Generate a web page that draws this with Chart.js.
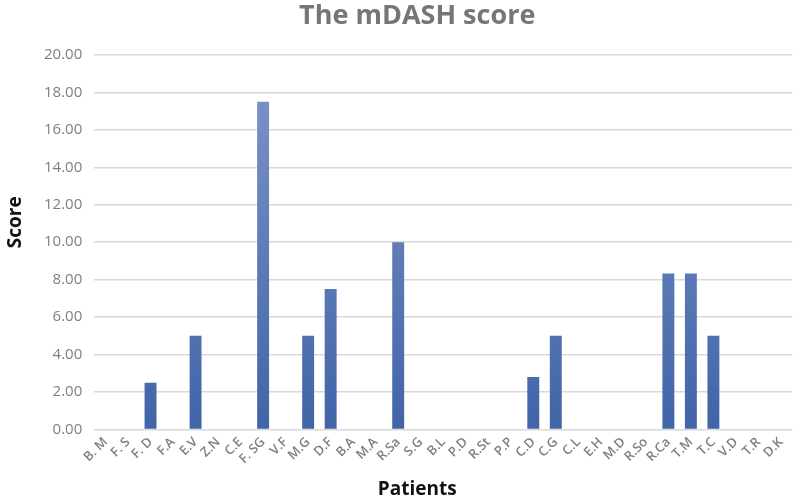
<!DOCTYPE html>
<html>
<head>
<meta charset="utf-8">
<script src="https://cdn.jsdelivr.net/npm/chart.js@4/dist/chart.umd.min.js"></script>
<style>
  html, body { margin: 0; padding: 0; background: #fff; }
  #wrap { width: 797px; height: 504px; }
</style>
</head>
<body>
<div id="wrap"><canvas id="mdash"></canvas></div>
<script>
// ── Data ─────────────────────────────────────────────────────────────
const patients = ['B. M','F. S','F. D','F.A','E.V','Z.N','C.E','F. SG','V.F','M.G','D.F','B.A','M.A','R.Sa','S.G',
  'B.L','P.D','R.St','P.P','C.D','C.G','C.L','E.H','M.D','R.So','R.Ca','T.M','T.C','V.D','T.R','D.K'];
const scores = [0, 0, 2.5, 0, 5.0, 0, 0, 17.5, 0, 5.0, 7.5, 0, 0, 10.0, 0,
  0, 0, 0, 0, 2.8, 5.0, 0, 0, 0, 0, 8.33, 8.33, 5.0, 0, 0, 0];
const chartTitle = 'The mDASH score';
const xTitle = 'Patients';
const yTitle = 'Score';

const GRAY = '#7f7f7f';
const FONT = 'Open Sans';

// bar fill: lighter at top, deeper blue at the base
function barFill(ctx) {
  const area = ctx.chart.chartArea;
  if (!area) return '#4a6cae';
  const g = ctx.chart.ctx.createLinearGradient(0, area.top, 0, area.bottom);
  g.addColorStop(0, '#8096c8');
  g.addColorStop(1, '#4164a8');
  return g;
}

// titles sit a bit left of the plot centre, like the original sheet
const titles = {
  id: 'titles',
  afterDraw(chart) {
    const { ctx, chartArea: a } = chart;
    const cx = (a.left + a.right) / 2 - 26;
    ctx.save();
    ctx.textAlign = 'center';
    ctx.textBaseline = 'middle';
    ctx.fillStyle = '#767676';
    ctx.font = `bold 27px "${FONT}"`;
    ctx.fillText(chartTitle, cx, 16);
    ctx.fillStyle = '#111';
    ctx.font = `bold 19px "${FONT}"`;
    ctx.fillText(xTitle, cx, 490);
    ctx.translate(16, (a.top + a.bottom) / 2 - 20);
    ctx.rotate(-Math.PI / 2);
    ctx.fillText(yTitle, 0, 0);
    ctx.restore();
  }
};

new Chart(document.getElementById('mdash'), {
  type: 'bar',
  data: {
    labels: patients,
    datasets: [{ label: yTitle, data: scores, backgroundColor: barFill,
      borderWidth: 0, barPercentage: 0.53, categoryPercentage: 1.0 }]
  },
  options: {
    responsive: true, maintainAspectRatio: false, animation: false,
    layout: { padding: { left: 32, right: 2, top: 55, bottom: 32 } },
    plugins: { legend: { display: false }, tooltip: { enabled: false } },
    scales: {
      x: {
        grid: { display: false, drawTicks: false },
        border: { display: false },
        ticks: { color: GRAY, font: { family: FONT, size: 13, weight: '600' }, minRotation: 45, maxRotation: 45,
          autoSkip: false, padding: 5 }
      },
      y: {
        min: 0, max: 20,
        grid: { color: '#d9d9d9', lineWidth: 1.5, drawTicks: false },
        border: { display: false },
        ticks: { stepSize: 2, color: GRAY, padding: 12, font: { family: FONT, size: 15 },
          callback: v => v.toFixed(2) }
      }
    }
  },
  plugins: [titles]
});
</script>
</body>
</html>
